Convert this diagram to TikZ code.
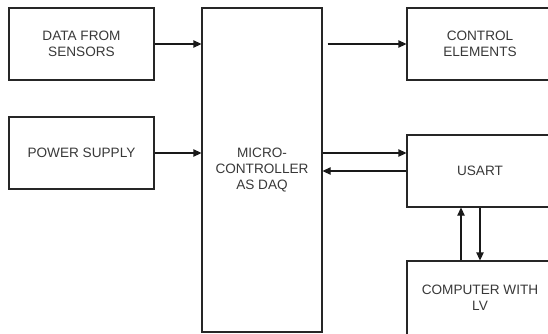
\documentclass[tikz,border=0pt]{standalone}
\usepackage{fontspec}
\setmainfont{Liberation Sans}
\usetikzlibrary{arrows.meta}
\begin{document}
\begin{tikzpicture}[x=0.75pt,y=-0.75pt,
  blk/.style={draw=black!85, line width=0.8pt, text=black!78, align=center,
    font=\fontsize{10.2}{12}\selectfont, inner sep=0pt},
  arr/.style={draw=black!90, line width=0.8pt, -{Triangle[length=6pt,width=5.5pt]}}]
\useasboundingbox (0,0) rectangle (548,333);
\clip (0,0) rectangle (548,333);
\node[blk, minimum width=145*0.75pt, minimum height=72*0.75pt] (ds) at (81.5,44) {DATA FROM\\SENSORS};
\node[blk, minimum width=145*0.75pt, minimum height=72*0.75pt] (ps) at (81.5,153) {POWER SUPPLY};
\node[blk, minimum width=120*0.75pt, minimum height=324*0.75pt] (mcu) at (262,170) {MICRO-\\CONTROLLER\\AS DAQ};
\node[blk, minimum width=146*0.75pt, minimum height=72*0.75pt] (ce) at (480,44) {CONTROL\\ELEMENTS};
\node[blk, minimum width=146*0.75pt, minimum height=72*0.75pt] (us) at (480,171) {USART};
\node[blk, minimum width=146*0.75pt, minimum height=74*0.75pt] (pc) at (480,298) {COMPUTER WITH\\LV};
\draw[arr] (ds.east) -- (ds.east -| mcu.west);
\draw[arr] (ps.east) -- (ps.east -| mcu.west);
\draw[arr] ([xshift=5*0.75pt]mcu.east |- ce.west) -- (ce.west);
\coordinate (u1) at ([yshift=18*0.75pt]us.west);
\draw[arr] (mcu.east |- u1) -- (u1);
\draw[arr] (us.west) -- (us.west -| mcu.east);
\draw[arr] ([xshift=-19*0.75pt]pc.north) -- ([xshift=-19*0.75pt]us.south);
\draw[arr] (us.south) -- (pc.north);
\end{tikzpicture}
\end{document}
